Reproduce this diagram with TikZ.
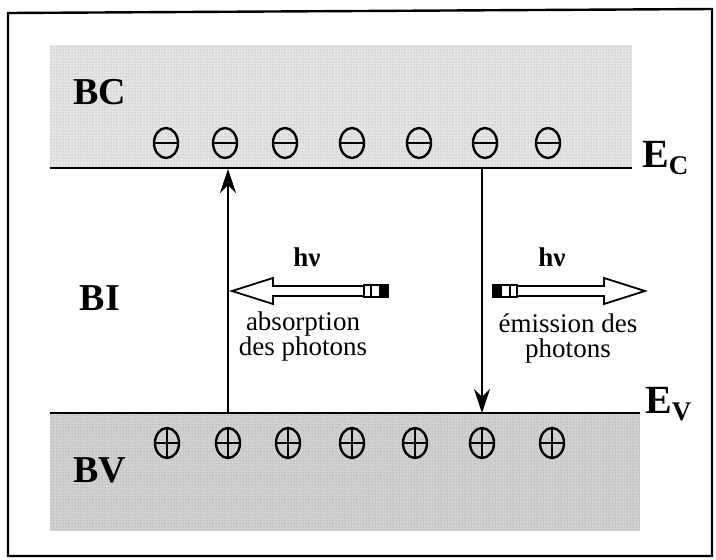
\documentclass[tikz,border=0pt]{standalone}
\usepackage{fontspec}
\setmainfont{Liberation Serif}
\usetikzlibrary{arrows.meta,patterns}
\begin{document}
\begin{tikzpicture}[x=1pt,y=-1pt,
  level/.style={line width=2.8pt},
  elec/.style={line width=2.4pt},
  trans/.style={line width=2pt,-{Stealth[length=24pt,width=16pt,inset=8pt]}},
  hollow/.style={line width=1.8pt,fill=white,line join=miter},
  lbl/.style={font=\fontsize{38}{38}\selectfont\bfseries,inner sep=0pt},
  elbl/.style={font=\fontsize{40}{40}\selectfont\bfseries,inner sep=0pt,anchor=west},
  txt/.style={font=\fontsize{27}{27}\selectfont,align=center,inner sep=0pt},
  hnu/.style={font=\fontsize{27}{27}\selectfont\bfseries,inner sep=0pt}]
\useasboundingbox (0,0) rectangle (716,560);
% frame
\draw[line width=2.4pt] (8,13) -- (712,9) -- (712,556) -- (8,556) -- cycle;
% bands
\fill[gray!20] (50,45) rectangle (632,168);
\fill[pattern=dots,pattern color=gray!80] (50,45) rectangle (632,168);
\fill[gray!35] (50,413) rectangle (640,531);
\fill[pattern=dots,pattern color=gray!90] (50,413) rectangle (640,531);
% levels
\coordinate (ecL) at (50,168); \coordinate (ecR) at (632,168);
\coordinate (evL) at (50,413); \coordinate (evR) at (640,413);
\draw[level] (ecL) -- (ecR);
\draw[level] (evL) -- (evR);
\node[elbl] (Ec) at (642,158) {E\raisebox{-7pt}{\fontsize{27}{27}\selectfont C}};
\node[elbl] (Ev) at (645,404) {E\raisebox{-7pt}{\fontsize{27}{27}\selectfont V}};
% band labels
\node[lbl] (BC) at (100,92) {BC};
\node[lbl] (BI) at (100,298) {BI};
\node[lbl] (BV) at (100,470) {BV};
% electrons
\foreach \x in {166,225,285,352,419,485,548}{
  \draw[elec] (\x,143) ellipse (12 and 15);
  \draw[elec] (\x-12,143) -- (\x+12,143);
}
% holes
\foreach \x in {167,228,288,352,415,482,552}{
  \draw[elec] (\x,443) ellipse (12 and 15);
  \draw[elec] (\x-12,443) -- (\x+12,443);
  \draw[elec] (\x,428) -- (\x,458);
}
% transitions
\coordinate (a0) at (228,413); \coordinate (a1) at (228,169);
\coordinate (e0) at (482,169); \coordinate (e1) at (482,413);
\draw[trans] (a0) -- (a1);
\draw[trans] (e0) -- (e1);
% absorption photon
\draw[hollow] (232,291) -- (273,278) -- (273,286) -- (364,286) -- (364,296) -- (273,296) -- (273,304) -- cycle;
\draw[line width=1.5pt] (364,285) rectangle (388,297);
\draw[line width=1.5pt] (371,285) rectangle (380,297);
\fill (380,285) rectangle (388,297);
\node[hnu] (h1) at (307,257) {hν};
\node[txt] (abs) at (303,337) {absorption\\[-2pt]des photons};
% emission photon
\draw[hollow] (645,291) -- (604,278) -- (604,286) -- (517,286) -- (517,296) -- (604,296) -- (604,304) -- cycle;
\draw[line width=1.5pt] (493,285) rectangle (517,297);
\draw[line width=1.5pt] (501,285) rectangle (510,297);
\fill (493,285) rectangle (501,297);
\node[hnu] (h2) at (552,257) {hν};
\node[txt] (emi) at (568,338) {émission des\\[-2pt]photons};
\end{tikzpicture}
\end{document}
